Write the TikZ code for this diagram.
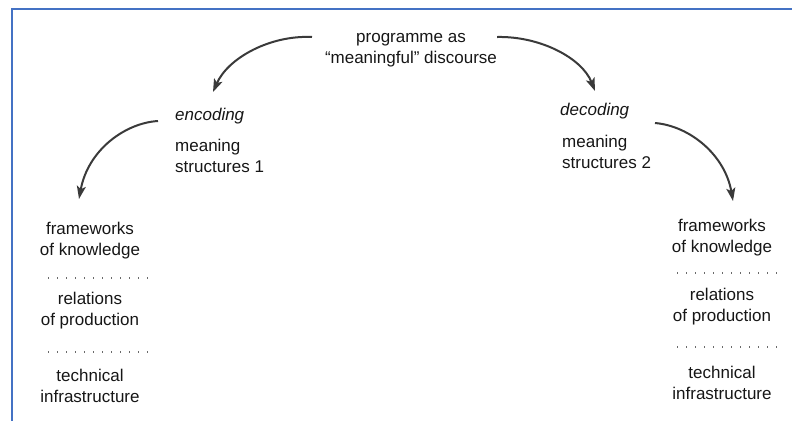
\documentclass[tikz,border=0pt]{standalone}
\usepackage{fontspec}
\setmainfont{Liberation Sans}
\usepackage{xcolor}
\usepackage{tikz}
\usetikzlibrary{positioning, arrows.meta, calc}
\definecolor{frameblue}{HTML}{4472C4}
\definecolor{arrowgray}{HTML}{3A3A3A}
\definecolor{textgray}{HTML}{161616}
\definecolor{dotgray}{HTML}{6A6A6A}
\tikzset{
  plain text/.style={
    inner sep=0pt,
    text=textgray,
    font=\fontsize{17}{21}\selectfont,
    align=center
  },
  stage text/.style={
    plain text,
    font=\fontsize{17}{21}\selectfont\itshape,
    anchor=west
  },
  meaning text/.style={
    plain text,
    align=left,
    anchor=west
  },
  flow arrow/.style={
    -{Stealth[length=13pt, width=9pt, inset=3pt]},
    line width=2pt,
    color=arrowgray
  },
  sep line/.style={
    draw=dotgray,
    line width=1.4pt,
    dash pattern=on 1.4pt off 7.6pt
  },
  frame line/.style={
    draw=frameblue,
    line width=2.4pt
  }
}

\begin{document}
\begin{tikzpicture}[x=1pt, y=-1pt]
  \useasboundingbox (0,0) rectangle (792,421);
  \draw[frame line] (792,9) -- (12,9) -- (12,421);

  % top
  \node[plain text] (prog) at (411,50) {programme as\\“meaningful” discourse};

  % encoding side
  \node[stage text] (enc) at (175,116) {encoding};
  \node[meaning text] (ms1) at (175,156) {meaning\\structures 1};
  \node[plain text] (fk1) at (90,241) {frameworks\\of knowledge};
  \node[plain text] (rp1) at (90,311) {relations\\of production};
  \node[plain text] (ti1) at (90,386) {technical\\infrastructure};

  % decoding side
  \node[stage text] (dec) at (560,111) {decoding};
  \node[meaning text] (ms2) at (562,152) {meaning\\structures 2};
  \node[plain text] (fk2) at (722,238) {frameworks\\of knowledge};
  \node[plain text] (rp2) at (722,307) {relations\\of production};
  \node[plain text] (ti2) at (722,383) {technical\\infrastructure};

  % arrow ends
  \coordinate (prog out1) at (312,37);
  \coordinate (enc in) at (213,92);
  \coordinate (enc out) at (158,121);
  \coordinate (fk1 in) at (79,199);
  \coordinate (prog out2) at (497,37);
  \coordinate (dec in) at (595,91);
  \coordinate (dec out) at (655,123);
  \coordinate (fk2 in) at (733,201);

  \draw[flow arrow] (prog out1) .. controls (270,35) and (228,58) .. (enc in);
  \draw[flow arrow] (enc out) .. controls (125,123) and (88,150) .. (fk1 in);
  \draw[flow arrow] (prog out2) .. controls (540,36) and (582,58) .. (dec in);
  \draw[flow arrow] (dec out) .. controls (690,126) and (725,155) .. (fk2 in);

  % separators
  \coordinate (sepA1) at (48,278);  \coordinate (sepA2) at (151,278);
  \coordinate (sepB1) at (48,352);  \coordinate (sepB2) at (151,352);
  \coordinate (sepC1) at (677,273); \coordinate (sepC2) at (780,273);
  \coordinate (sepD1) at (677,347); \coordinate (sepD2) at (780,347);
  \draw[sep line] (sepA1) -- (sepA2);
  \draw[sep line] (sepB1) -- (sepB2);
  \draw[sep line] (sepC1) -- (sepC2);
  \draw[sep line] (sepD1) -- (sepD2);
\end{tikzpicture}
\end{document}
